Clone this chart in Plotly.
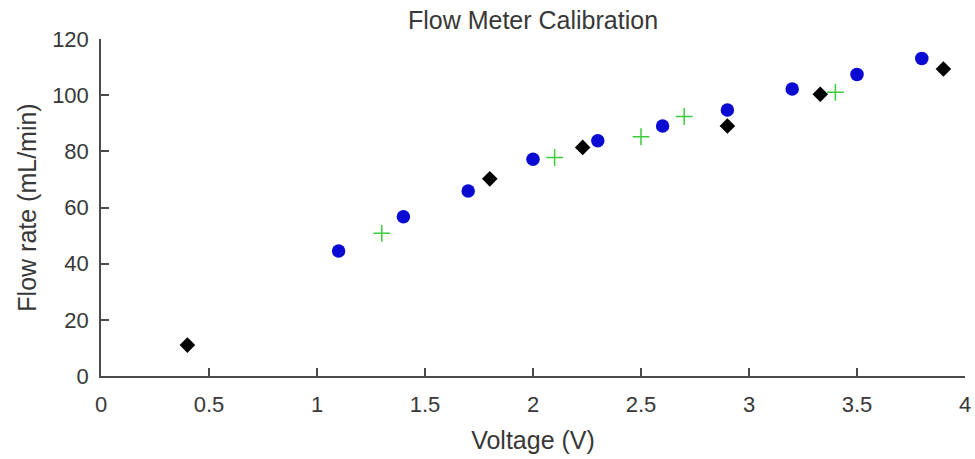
import plotly.graph_objects as go

# Calibration runs: voltage (V) vs. measured flow rate (mL/min)
run1_voltage = [1.1, 1.4, 1.7, 2.0, 2.3, 2.6, 2.9, 3.2, 3.5, 3.8]
run1_flow = [44.5, 56.7, 65.9, 77.2, 83.8, 89.0, 94.7, 102.2, 107.4, 113.1]

run2_voltage = [1.3, 2.1, 2.5, 2.7, 3.4]
run2_flow = [50.8, 77.8, 85.2, 92.4, 101.0]

run3_voltage = [0.4, 1.8, 2.23, 2.9, 3.33, 3.9]
run3_flow = [11.0, 70.2, 81.4, 89.0, 100.3, 109.3]

x_ticks = [0, 0.5, 1, 1.5, 2, 2.5, 3, 3.5, 4]
x_tick_text = ["0", "0.5", "1", "1.5", "2", "2.5", "3", "3.5", "4"]
y_ticks = [0, 20, 40, 60, 80, 100, 120]

FONT = "Liberation Sans, Arial, sans-serif"
TEXT = "#383838"
AXIS = "#4a4a4a"

fig = go.Figure()
fig.add_trace(go.Scatter(
    x=run1_voltage, y=run1_flow, mode="markers",
    marker=dict(symbol="circle", size=13.5, color="#0a0ad2", line=dict(width=0)),
))
fig.add_trace(go.Scatter(
    x=run2_voltage, y=run2_flow, mode="markers",
    marker=dict(symbol="cross-thin", size=12, color="#3ccc3c",
                line=dict(width=1.5, color="#3ccc3c")),
))
fig.add_trace(go.Scatter(
    x=run3_voltage, y=run3_flow, mode="markers",
    marker=dict(symbol="diamond", size=12, color="#000000", line=dict(width=0)),
))

axis_common = dict(
    showgrid=False, zeroline=False, showline=True, linecolor=AXIS, linewidth=1.5,
    mirror=False, ticks="inside", ticklen=8, tickwidth=1.5, tickcolor=AXIS,
    tickfont=dict(family=FONT, size=22, color=TEXT), automargin=False,
)

fig.update_layout(
    width=975, height=459,
    margin=dict(l=101, r=10, t=39, b=83),
    paper_bgcolor="white", plot_bgcolor="white",
    showlegend=False,
    title=dict(text="Flow Meter Calibration", x=(101 + 965) / 2 / 975, xanchor="center",
               y=1 - 20 / 459, yanchor="middle", yref="container",
               font=dict(family=FONT, size=25, color=TEXT)),
    xaxis=dict(range=[0, 4], tickvals=x_ticks, ticktext=x_tick_text,
               ticklabelstandoff=8,
               title=dict(text="Voltage (V)", font=dict(family=FONT, size=25, color=TEXT),
                          standoff=15),
               **axis_common),
    yaxis=dict(range=[0, 120], tickvals=y_ticks,
               ticklabelstandoff=6,
               title=dict(text="Flow rate (mL/min)", font=dict(family=FONT, size=25, color=TEXT),
                          standoff=8),
               **axis_common),
)

fig.write_html("out.html")
